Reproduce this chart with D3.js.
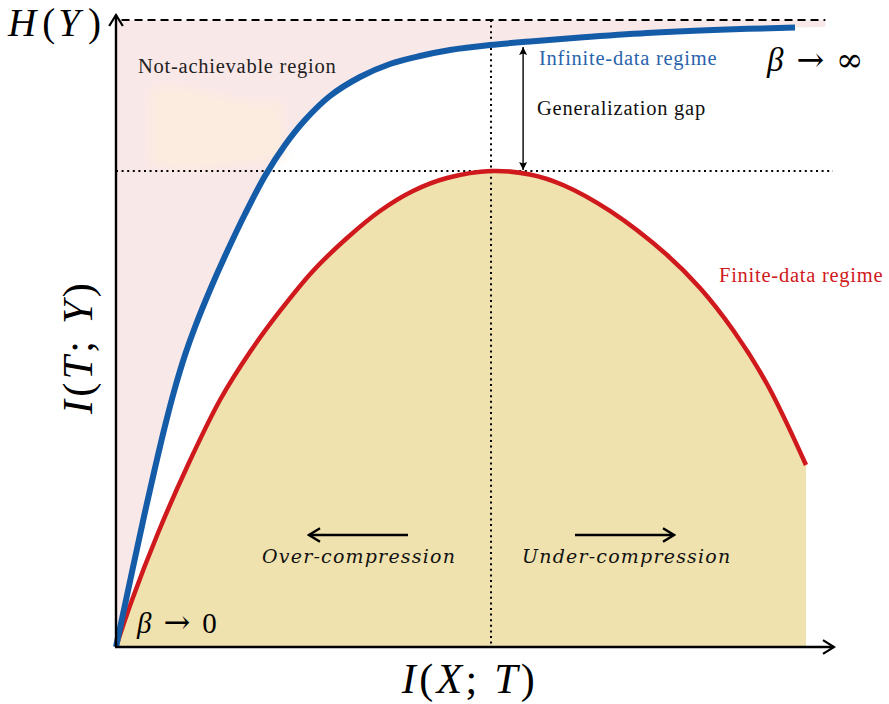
<!DOCTYPE html>
<html>
<head>
<meta charset="utf-8">
<script src="https://cdn.jsdelivr.net/npm/d3@7/dist/d3.min.js"></script>
<style>
  html, body { margin: 0; padding: 0; background: #fff; }
  svg { display: block; }
</style>
</head>
<body>
<svg id="chart" width="889" height="704"></svg>
<script>
// Information-bottleneck curves: I(T;Y) against I(X;T), with H(Y) = 100
const infiniteX = [0, 1.30, 2.75, 4.20, 5.65, 7.10, 8.55, 10.0, 11.45, 13.62, 15.80, 18.70, 21.59, 24.49, 27.39, 31.01, 35.36, 39.71, 44.06, 48.41, 54.20, 60.00, 67.25, 76.96, 86.52, 98.41];
const infiniteY = [0, 6.70, 14.19, 21.53, 28.55, 35.25, 41.31, 46.57, 51.04, 56.94, 62.36, 69.06, 75.12, 80.06, 84.05, 87.88, 90.91, 92.98, 94.26, 95.22, 96.01, 96.57, 97.21, 97.93, 98.41, 98.80];

const finiteX = [0, 2.32, 6.09, 10.29, 15.07, 19.42, 23.77, 28.55, 33.48, 38.26, 43.04, 47.97, 54.35, 60.00, 64.78, 71.59, 79.86, 84.64, 89.42, 94.35, 100];
const finiteY = [0, 7.50, 18.18, 28.71, 39.39, 47.05, 53.59, 59.97, 65.23, 69.54, 72.73, 74.80, 75.92, 75.36, 73.68, 69.54, 62.52, 57.26, 50.56, 41.95, 29.03];

const entropyY = 100;               // H(Y)
const peakX = 54.35, peakY = 75.92; // optimum of the finite-data curve
const gapX = 59.0, gapTop = 96.5;   // generalization-gap arrow
const regionEndX = 102.8, regionEndY = 98.9;

const SERIF = '"Liberation Serif", "Times New Roman", serif';
const SYMBOL = '"DejaVu Serif", serif';
const ITALIC_FONT = '"DejaVu Serif", serif';

const svg = d3.select("#chart");
const x = d3.scaleLinear().domain([0, 100]).range([116, 806]);
const y = d3.scaleLinear().domain([0, 100]).range([647, 20]);

const infinite = infiniteX.map((v, i) => [v, infiniteY[i]]);
const finite = finiteX.map((v, i) => [v, finiteY[i]]);

const smooth = d3.curveCatmullRom.alpha(0.5);
const line = d3.line().x(d => x(d[0])).y(d => y(d[1])).curve(smooth);

const defs = svg.append("defs");
defs.append("filter").attr("id", "soft")
  .attr("x", "-20%").attr("y", "-20%").attr("width", "140%").attr("height", "140%")
  .append("feGaussianBlur").attr("stdDeviation", 4);

function chevron(id, size, sw) {
  defs.append("marker").attr("id", id)
    .attr("viewBox", `${-size - 2} ${-size} ${size + 4} ${size * 2}`)
    .attr("refX", 0).attr("refY", 0)
    .attr("markerWidth", size + 4).attr("markerHeight", size * 2)
    .attr("markerUnits", "userSpaceOnUse")
    .attr("orient", "auto")
    .append("path")
    .attr("d", `M${-size},${-size * 0.62}L0,0L${-size},${size * 0.62}`)
    .attr("fill", "none").attr("stroke", "#000")
    .attr("stroke-width", sw).attr("stroke-linejoin", "miter");
}
chevron("axisHead", 11, 2.2);
chevron("dirHead", 11, 2.4);

defs.append("marker").attr("id", "tri")
  .attr("viewBox", "-9 -5 10 10").attr("refX", 0).attr("refY", 0)
  .attr("markerWidth", 10).attr("markerHeight", 10)
  .attr("markerUnits", "userSpaceOnUse").attr("orient", "auto-start-reverse")
  .append("path").attr("d", "M-8,-4L0,0L-8,4L-6.5,0Z").attr("fill", "#000");

// Not-achievable region: above the infinite-data curve, below H(Y)
const regionPath = "M" + x(0) + "," + y(entropyY) +
  "L" + x(regionEndX) + "," + y(entropyY) +
  "L" + x(regionEndX) + "," + y(regionEndY) +
  line(infinite.slice().reverse()).replace(/^M/, "L") + "Z";
svg.append("path").attr("d", regionPath).attr("fill", "#f9e8e8");

// faint highlight inside the region
svg.append("path")
  .attr("d", `M${x(5)},${y(89)} C${x(10)},${y(91)} ${x(16)},${y(86)} ${x(24)},${y(87)} L${x(24.5)},${y(78)} C${x(17)},${y(77)} ${x(11)},${y(75)} ${x(5)},${y(77)} Z`)
  .attr("fill", "#fcebdf").attr("filter", "url(#soft)");

// achievable area under the finite-data curve
const area = d3.area().x(d => x(d[0])).y0(y(0)).y1(d => y(d[1])).curve(smooth);
svg.append("path").attr("d", area(finite)).attr("fill", "#efe2ae");

// reference lines
svg.append("line")
  .attr("x1", x(0.8)).attr("x2", x(102.8)).attr("y1", y(entropyY)).attr("y2", y(entropyY))
  .attr("stroke", "#000").attr("stroke-width", 2).attr("stroke-dasharray", "8,5");

svg.append("line")
  .attr("x1", x(0)).attr("x2", 833).attr("y1", y(peakY)).attr("y2", y(peakY))
  .attr("stroke", "#000").attr("stroke-width", 2).attr("stroke-dasharray", "2,3.6");

svg.append("line")
  .attr("x1", x(peakX)).attr("x2", x(peakX)).attr("y1", y(entropyY)).attr("y2", y(0))
  .attr("stroke", "#000").attr("stroke-width", 2).attr("stroke-dasharray", "2,3.6");

// curves
svg.append("path").attr("d", line(finite))
  .attr("fill", "none").attr("stroke", "#d0191c").attr("stroke-width", 4.5);
svg.append("path").attr("d", line(infinite))
  .attr("fill", "none").attr("stroke", "#155ca8").attr("stroke-width", 6);

// axes
svg.append("line")
  .attr("x1", x(0)).attr("y1", y(0)).attr("x2", x(0)).attr("y2", 15)
  .attr("stroke", "#000").attr("stroke-width", 2.4).attr("marker-end", "url(#axisHead)");
svg.append("line")
  .attr("x1", x(0) - 1).attr("y1", y(0)).attr("x2", 834).attr("y2", y(0))
  .attr("stroke", "#000").attr("stroke-width", 2.4).attr("marker-end", "url(#axisHead)");

// generalization gap
svg.append("line")
  .attr("x1", x(gapX)).attr("x2", x(gapX))
  .attr("y1", y(peakY) - 1).attr("y2", y(gapTop) + 5)
  .attr("stroke", "#000").attr("stroke-width", 1.4)
  .attr("marker-start", "url(#tri)").attr("marker-end", "url(#tri)");

// compression direction arrows
svg.append("line").attr("x1", 408).attr("x2", 309).attr("y1", 535).attr("y2", 535)
  .attr("stroke", "#000").attr("stroke-width", 2.4).attr("marker-end", "url(#dirHead)");
svg.append("line").attr("x1", 575).attr("x2", 674).attr("y1", 535).attr("y2", 535)
  .attr("stroke", "#000").attr("stroke-width", 2.4).attr("marker-end", "url(#dirHead)");

// labels: each part is [text, italic, dx, font, size]
function mathLabel(sel, parts) {
  sel.style("font-family", SERIF);
  parts.forEach(p => {
    const t = sel.append("tspan").text(p[0]).style("font-style", p[1] ? "italic" : "normal");
    if (p[2]) t.attr("dx", p[2]);
    if (p[3]) t.style("font-family", p[3]);
    if (p[4]) t.style("font-size", p[4]);
  });
  return sel;
}

mathLabel(svg.append("text").attr("x", 8).attr("y", 36).style("font-size", "39px"),
  [["H", true], ["(", false, 6], ["Y", true, 3], [")", false, 8]]);

mathLabel(svg.append("text").attr("x", 470).attr("y", 693).attr("text-anchor", "middle")
  .style("font-size", "42px").style("letter-spacing", "3.3px"),
  [["I", true], ["(", false], ["X", true], ["; ", false], ["T", true], [")", false]]);

mathLabel(svg.append("text").attr("transform", "translate(92,347) rotate(-90)")
  .attr("text-anchor", "middle")
  .style("font-size", "42px").style("letter-spacing", "3.3px"),
  [["I", true], ["(", false], ["T", true], ["; ", false], ["Y", true], [")", false]]);

function label(px, py, color, txt) {
  svg.append("text").attr("x", px).attr("y", py)
    .style("font-family", SERIF).style("font-size", "20.5px")
    .style("letter-spacing", "0.75px")
    .attr("fill", color).text(txt);
}
label(138, 73, "#222", "Not-achievable region");
label(539, 65, "#2a64ac", "Infinite-data regime");
label(537, 115, "#111", "Generalization gap");
label(719, 282, "#d0191c", "Finite-data regime");

mathLabel(svg.append("text").attr("x", 767).attr("y", 71).style("font-size", "33px"),
  [["β", true], ["→", false, 13, SYMBOL], ["∞", false, 12, SYMBOL]]);
mathLabel(svg.append("text").attr("x", 137).attr("y", 633).style("font-size", "29px"),
  [["β", true], ["→", false, 12, SYMBOL, "32px"], ["0", false, 12]]);

function direction(px, txt) {
  svg.append("text").attr("x", px).attr("y", 563)
    .style("font-family", ITALIC_FONT).style("font-style", "italic")
    .style("font-size", "19px").style("letter-spacing", "1.2px")
    .attr("fill", "#111").text(txt);
}
direction(262, "Over-compression");
direction(522, "Under-compression");
</script>
</body>
</html>
